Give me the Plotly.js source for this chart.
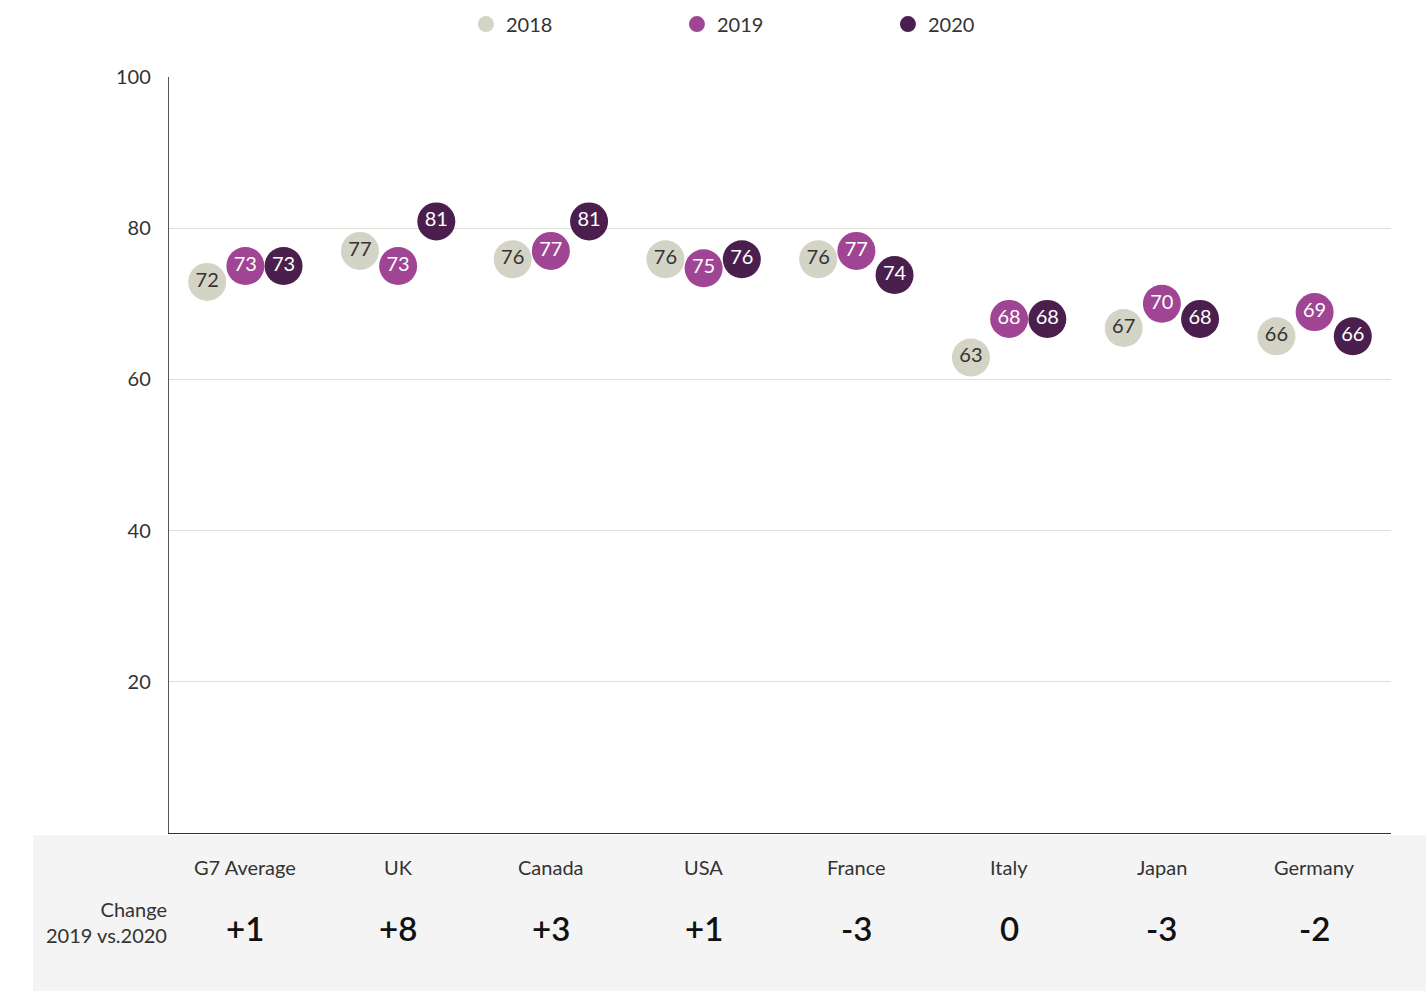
<!DOCTYPE html>
<html>
<head>
<meta charset="utf-8">
<script src="https://cdn.plot.ly/plotly-3.0.1.min.js"></script>
<style>html,body{margin:0;padding:0;background:#fff;}#chart{width:1426px;height:991px;}</style>
</head>
<body>
<div id="chart"></div>
<script>
// ---- Data ----
const categories = ["G7 Average", "UK", "Canada", "USA", "France", "Italy", "Japan", "Germany"];
const years = ["2018", "2019", "2020"];
// plotted positions
const values2018 = [72.9, 77, 75.9, 75.9, 75.9, 62.9, 66.8, 65.7];
const values2019 = [75, 75, 77, 74.7, 77, 68, 70, 68.9];
const values2020 = [75, 80.9, 80.9, 75.9, 73.8, 68, 68, 65.7];
// labels printed on the markers
const labels2018 = ["72", "77", "76", "76", "76", "63", "67", "66"];
const labels2019 = ["73", "73", "77", "75", "77", "68", "70", "69"];
const labels2020 = ["73", "81", "81", "76", "74", "68", "68", "66"];
const change = ["+1", "+8", "+3", "+1", "-3", "0", "-3", "-2"];
const changeLabel = "Change<br>2019 vs.2020";
const yTicks = [20, 40, 60, 80, 100];

// ---- Styling ----
const FONT = "Lato, 'Open Sans', sans-serif";
const colors = ["#d3d3c6", "#a04593", "#4a1f4e"];
const textColors = ["#333333", "#ffffff", "#ffffff"];
const offsets = [-0.25, 0, 0.25];
const seriesVals = [values2018, values2019, values2020];
const seriesLabels = [labels2018, labels2019, labels2020];

const traces = years.map((yr, k) => ({
  type: "scatter",
  mode: "markers+text",
  name: yr,
  x: categories.map((c, i) => i + offsets[k]),
  y: seriesVals[k],
  text: seriesLabels[k],
  textposition: "middle center",
  textfont: {family: FONT, size: 20, color: textColors[k]},
  marker: {size: 38, color: colors[k], line: {width: 0}},
  hoverinfo: "skip",
  cliponaxis: false
}));

const annotations = [];
categories.forEach((c, i) => {
  annotations.push({
    xref: "x", yref: "paper", x: i, y: -0.045, yanchor: "middle", xanchor: "center",
    text: c, showarrow: false, font: {family: FONT, size: 20, color: "#333333"}
  });
  annotations.push({
    xref: "x", yref: "paper", x: i, y: -0.125, yanchor: "middle", xanchor: "center",
    text: change[i], showarrow: false, font: {family: FONT, size: 33, color: "#111111", weight: 600}
  });
});
annotations.push({
  xref: "paper", yref: "paper", x: 0, y: -0.118, xanchor: "right", yanchor: "middle",
  align: "right", text: changeLabel, showarrow: false,
  font: {family: FONT, size: 20, color: "#333333"}
});

const layout = {
  width: 1426, height: 991,
  margin: {l: 169, r: 35, t: 77, b: 158, autoexpand: false},
  paper_bgcolor: "#ffffff", plot_bgcolor: "#ffffff",
  font: {family: FONT, color: "#333333"},
  showlegend: true,
  legend: {
    orientation: "h", x: 0.243, xanchor: "left", y: 1.070, yanchor: "middle",
    font: {family: FONT, size: 20, color: "#333333"},
    entrywidth: 166, itemsizing: "trace", bgcolor: "rgba(0,0,0,0)"
  },
  xaxis: {
    range: [-0.5, 7.5], showgrid: false, zeroline: false, showticklabels: false,
    showline: true, linecolor: "#333333", linewidth: 1.2, ticks: "", fixedrange: true
  },
  yaxis: {
    range: [0, 100], tickvals: yTicks, ticktext: yTicks.map(String),
    showgrid: true, gridcolor: "#deded6", gridwidth: 1, zeroline: false,
    showline: true, linecolor: "#555555", linewidth: 1.2, ticks: "",
    ticklabelstandoff: 13,
    tickfont: {family: FONT, size: 20, color: "#333333"}, fixedrange: true
  },
  shapes: [{
    type: "rect", xref: "paper", yref: "paper", x0: -0.1113, x1: 1.0286, y0: -0.003, y1: -0.209,
    fillcolor: "#f4f4f4", line: {width: 0}, layer: "below"
  }],
  annotations: annotations
};

Plotly.newPlot("chart", traces, layout, {displayModeBar: false, staticPlot: true});
</script>
</body>
</html>
